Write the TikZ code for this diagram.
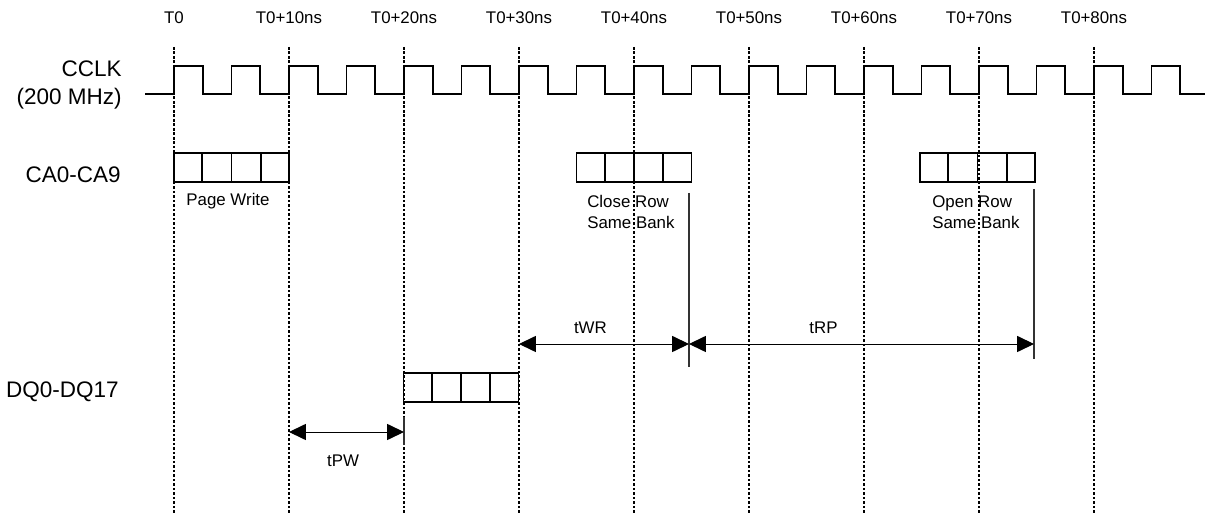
\documentclass[tikz,border=0pt]{standalone}
\usepackage{fontspec}
\setmainfont{Liberation Sans}
\usetikzlibrary{arrows.meta,calc}
\tikzset{
  wave/.style={line width=1.4pt},
  gridline/.style={line width=1pt, dash pattern=on 1.8pt off 1.4pt},
  cellbox/.style={draw, line width=1.4pt, minimum width=28.75mm, minimum height=7.25mm, inner sep=0pt},
  timemark/.style={line width=1.2pt, black!80},
  dimarrow/.style={line width=0.7pt, {Triangle[length=4.2mm,width=4mm]}-{Triangle[length=4.2mm,width=4mm]}},
  rowname/.style={anchor=east, inner sep=0pt, font=\fontsize{16}{20}\selectfont}
}
\begin{document}
\begin{tikzpicture}[x=0.25mm,y=-0.25mm,font=\fontsize{12}{15}\selectfont]
\useasboundingbox (0,0) rectangle (1206,514);
\foreach \i in {0,...,8}{
  \node (t\i) at ({174+115*\i},18) {\ifnum\i=0 T0\else T0+\i0ns\fi};
  \draw[gridline] (t\i.center) ++(0,29) -- ++(0,467);
}
\draw[wave] (145,94) foreach \k in {0,...,17}{ -- ({174+57.5*\k},94) -- ({174+57.5*\k},66) -- ({202.75+57.5*\k},66) -- ({202.75+57.5*\k},94)} -- (1205,94);
\node[rowname, align=right] (cclk) at (122,85) {CCLK\\(200 MHz)};
\node[rowname] (ca) at (121,175) {CA0-CA9};
\node[rowname] (dq) at (119,392) {DQ0-DQ17};
\node[cellbox] (pagewr) at (231.5,167.5) {};
\node[cellbox] (closerow) at (634,167.5) {};
\node[cellbox] (openrow) at (977.5,167.5) {};
\node[cellbox] (dqdata) at (461,387.5) {};
\foreach \b in {pagewr,closerow,openrow,dqdata}
  \foreach \f in {0.25,0.5,0.75}
    \draw[wave] ($(\b.north west)!\f!(\b.north east)$) -- ($(\b.south west)!\f!(\b.south east)$);
\node[anchor=base, inner sep=0pt] (pwlbl) at (228,206) {Page Write};
\node[anchor=north west, align=left, inner sep=0pt] (crlbl) at (587,195) {Close Row\\Same Bank};
\node[anchor=north west, align=left, inner sep=0pt] (orlbl) at (932,195) {Open Row\\Same Bank};
\coordinate (wrend) at (689,344);
\coordinate (rpend) at (1034,344);
\coordinate (pwend) at (404,432);
\draw[timemark] (wrend) ++(0,-151) -- ++(0,174);
\draw[timemark] (rpend) ++(0,-155) -- ++(0,170);
\draw[timemark] (pwend) ++(0,-15) -- ++(0,28);
\draw[dimarrow] (t3 |- wrend) -- (wrend) node[above=2.5mm, pos=0.42, inner sep=0pt] {tWR};
\draw[dimarrow] (wrend) -- (rpend) node[above=2.5mm, pos=0.39, inner sep=0pt] {tRP};
\draw[dimarrow] (t1 |- pwend) -- (pwend) node[below=5.5mm, pos=0.47, inner sep=0pt] {tPW};
\end{tikzpicture}
\end{document}
